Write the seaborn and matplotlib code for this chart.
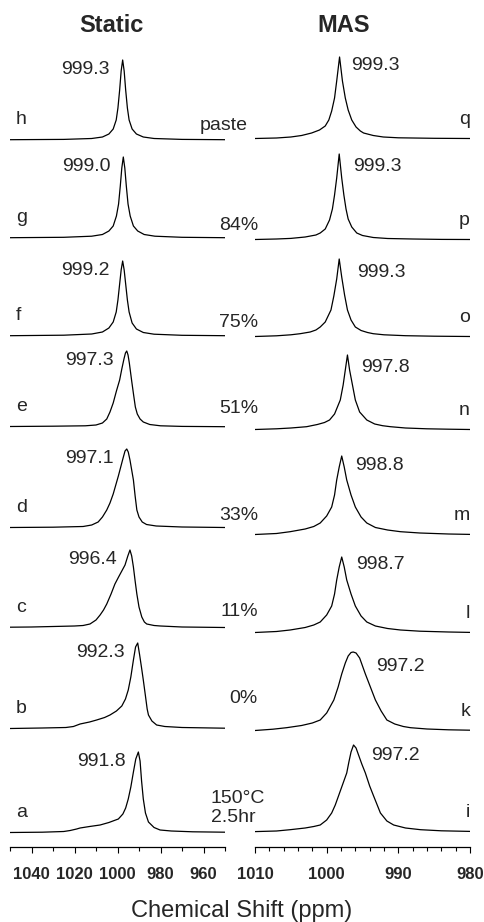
import numpy as np
import pandas as pd
import matplotlib
matplotlib.use("Agg")
import matplotlib.pyplot as plt
from matplotlib import font_manager
from matplotlib.ticker import MultipleLocator
import seaborn as sns

# ---- static spectra (ppm, intensity) ----
h_ppm = [1050, 1025, 1012, 1007, 1004, 1002, 1000.6, 999.8, 999.0, 998.3, 997.6, 996.9, 996.2, 995.4, 994.6, 993.2, 991.2, 988, 983, 970, 950]
h_int = [0.3, 0.6, 1.5, 3, 6, 11, 20, 32, 50, 69, 80, 69, 50, 32, 20, 11, 6, 3, 1.5, 0.6, 0.3]
g_ppm = [1050, 1025, 1012, 1007, 1004, 1002, 1000.5, 999.5, 998.7, 998.0, 997.3, 996.6, 995.9, 995.1, 994.1, 992.6, 990.6, 987.6, 982.6, 970, 950]
g_int = [0.3, 0.7, 1.8, 3.5, 7, 12, 22, 34, 52, 70, 81, 70, 52, 34, 22, 12, 7, 3.5, 1.8, 0.7, 0.3]
f_ppm = [1050, 1025, 1012, 1007, 1004, 1002, 1000.6, 999.8, 999.0, 998.3, 997.6, 996.9, 996.2, 995.4, 994.6, 993.2, 991.2, 988, 983, 970, 950]
f_int = [0.3, 0.8, 2, 4, 8, 14, 24, 36, 52, 66, 75, 66, 52, 36, 24, 13, 7, 3.5, 1.8, 0.7, 0.3]
e_ppm = [1050, 1030, 1015, 1010, 1007, 1005, 1003.5, 1002, 1000.5, 999, 998, 997, 996.3, 995.7, 995.1, 994.5, 993.4, 992.5, 991.7, 990.8, 989.5, 988, 985, 980, 970, 950]
e_int = [0.5, 0.8, 1.2, 2, 4, 8, 15, 24, 36, 47, 58, 68, 74, 76, 72, 64, 46, 32, 20, 13, 8, 5, 2.5, 1.2, 0.6, 0.3]
d_ppm = [1050, 1030, 1016, 1012, 1009, 1007, 1005, 1003.5, 1002, 1000.8, 999.6, 998.5, 997.4, 996.5, 995.7, 995, 994.2, 993.4, 992.6, 991.8, 991, 990, 988.5, 986.5, 982, 970, 950]
d_int = [0.5, 0.8, 1.5, 3, 6, 11, 18, 25, 34, 43, 52, 61, 70, 77, 79, 76, 68, 58, 48, 32, 18, 11, 6, 3.5, 2, 1, 0.5]
c_ppm = [1050, 1040, 1030, 1020, 1016, 1012.8, 1010, 1008.1, 1006.5, 1005, 1003, 1001.2, 999.5, 998, 996.5, 995.2, 994.2, 993.4, 992.6, 991.8, 991, 990, 988.7, 987.5, 986.4, 983, 980, 970, 950]
c_int = [0.8, 1, 1.5, 2, 2.5, 4, 8, 13, 18, 24, 34, 44, 51, 57, 63, 72, 78, 72, 61, 47, 34, 21, 11, 6, 4, 2.5, 2, 1, 0.5]
b_ppm = [1050, 1035, 1024, 1020.5, 1017.4, 1013, 1009.7, 1006, 1003.5, 1000.5, 998, 996.3, 995, 993.8, 992.6, 991.6, 990.6, 989.7, 988.8, 988, 987, 986.2, 985.6, 984, 981.8, 978, 970, 950]
b_int = [0.5, 1, 1.5, 2.5, 5, 7, 9, 11.5, 14, 18, 23, 30, 39, 52, 69, 82, 86, 74, 61, 49, 33, 20, 14, 8, 4, 2.5, 1.5, 0.8]
a_ppm = [1050, 1035, 1025, 1022, 1019, 1017.4, 1013, 1008.1, 1004, 1001.5, 999.6, 997.5, 996.2, 995, 993.8, 992.6, 991.5, 990.3, 989.5, 988.8, 988, 987, 985.6, 983, 980.2, 975, 965, 950]
a_int = [0.5, 0.8, 1.5, 2.5, 4, 5, 6.5, 8, 10.5, 12.5, 14, 19, 25, 34, 46, 61, 74, 81, 72, 52, 34, 20, 11, 5.5, 3, 2, 1.2, 0.8]

# ---- MAS spectra ----
q_ppm = [1010, 1007, 1005, 1003.5, 1002.1, 1001, 1000.2, 999.7, 999.3, 998.9, 998.6, 998.2, 997.8, 997.4, 997.0, 996.5, 995.9, 995.3, 994.85, 993.5, 992.1, 990, 985, 980]
q_int = [0.5, 1, 2, 3.5, 6, 9, 13, 19, 28, 41, 58, 82, 58, 41, 29, 19, 12, 8, 6, 3.5, 2, 1.2, 0.7, 0.5]
p_ppm = [1010, 1007, 1005, 1003, 1001.5, 1000.9, 1000.2, 999.6, 999.2, 998.9, 998.6, 998.25, 997.9, 997.6, 997.3, 997.0, 996.5, 995.8, 995, 993.5, 991.5, 988, 984, 980]
p_int = [0.5, 1, 1.6, 3, 5, 7, 11, 20, 31, 45, 62, 86, 62, 45, 31, 21, 13, 7, 4.5, 2.5, 1.5, 1, 0.6, 0.5]
o_ppm = [1010, 1007, 1005, 1003.7, 1002.3, 1001.5, 1000.9, 1000.2, 999.4, 999.0, 998.6, 998.25, 997.9, 997.5, 997.1, 996.6, 996.0, 995.2, 994.3, 993.5, 992, 989, 985, 980]
o_int = [0.5, 1.2, 2.2, 3.3, 5, 7, 10, 15, 27, 41, 58, 78, 60, 42, 27, 17, 10, 6.5, 4.5, 3.3, 2.2, 1.3, 0.8, 0.5]
n_ppm = [1010, 1007, 1005, 1002.8, 1001.3, 1000.3, 999.6, 998.9, 998.1, 997.7, 997.4, 997.1, 996.8, 996.4, 996.0, 995.4, 994.4, 993.3, 992.2, 991.1, 989, 986, 983, 980]
n_int = [0.5, 1.2, 2, 3.3, 5.5, 7.5, 10, 16, 30, 45, 60, 75, 60, 45, 30, 18, 10, 6, 4.3, 3.3, 2, 1.2, 0.8, 0.5]
m_ppm = [1010, 1007, 1005.1, 1003, 1001.8, 1000.9, 1000, 999.3, 998.9, 998.6, 998.25, 997.9, 997.55, 997.2, 996.6, 996.0, 995.2, 994.4, 993.2, 991.5, 989.7, 987, 983, 980]
m_int = [0.5, 1.5, 3.3, 6, 8.5, 12, 19, 28, 40, 55, 68, 79, 68, 55, 40, 28, 18, 12, 7.5, 5, 3.3, 2, 1, 0.6]
l_ppm = [1010, 1007, 1005.1, 1003, 1001.8, 1000.9, 1000, 999.3, 998.9, 998.6, 998.25, 997.9, 997.55, 997.2, 996.6, 996.0, 995.2, 994.4, 993.2, 991.5, 989.7, 987, 983, 980]
l_int = [0.5, 1.5, 3, 5.5, 8, 11, 18, 27, 39, 53, 66, 76, 66, 53, 39, 27, 17, 11, 7, 4.5, 3, 1.8, 1, 0.6]
k_ppm = [1010, 1007.5, 1005.6, 1003.5, 1002, 1000.9, 1000, 999.0, 998.4, 997.9, 997.4, 997.0, 996.6, 996.3, 995.9, 995.4, 994.6, 993.9, 993.2, 992.4, 991.6, 990.5, 989.3, 988.3, 986, 983, 980]
k_int = [0.5, 1.8, 3.3, 5.5, 8, 11, 18, 31, 44, 57, 68, 75, 78.5, 79, 78, 73, 57, 44, 31, 20, 11, 7, 4.5, 3.3, 2, 1.2, 0.8]
i_ppm = [1010, 1007, 1005.1, 1003, 1001.8, 1000.9, 1000, 999.3, 998.8, 998.35, 997.7, 997.2, 996.9, 996.6, 996.25, 995.9, 995.5, 995.1, 994.6, 994.0, 993.45, 992.5, 991.6, 990.65, 989, 986.9, 984, 980]
i_int = [0.4, 1, 2.3, 4, 5.5, 7, 12, 19, 27, 36, 49, 59, 70, 80, 87, 84, 76, 68, 59, 46, 36, 19, 11, 7, 4, 2.3, 1.2, 0.6]

static_letters = ["h", "g", "f", "e", "d", "c", "b", "a"]
static_shifts = ["999.3", "999.0", "999.2", "997.3", "997.1", "996.4", "992.3", "991.8"]
mas_letters = ["q", "p", "o", "n", "m", "l", "k", "i"]
mas_shifts = ["999.3", "999.3", "999.3", "997.8", "998.8", "998.7", "997.2", "997.2"]
water_labels = ["paste", "84%", "75%", "51%", "33%", "11%", "0%"]

static_curves = [(h_ppm, h_int), (g_ppm, g_int), (f_ppm, f_int), (e_ppm, e_int),
                 (d_ppm, d_int), (c_ppm, c_int), (b_ppm, b_int), (a_ppm, a_int)]
mas_curves = [(q_ppm, q_int), (p_ppm, p_int), (o_ppm, o_int), (n_ppm, n_int),
              (m_ppm, m_int), (l_ppm, l_int), (k_ppm, k_int), (i_ppm, i_int)]

# layout: stacking offsets, label offsets (pixels)
static_base = [707, 609, 511, 420, 319, 219, 118, 14]
mas_base = [708, 607, 510, 417, 312, 214, 116, 15]
mas_dx = [12, 14, 18, 14, 13, 14, 23, 18]
mas_dy = [-8, -12, -13, -12, -9, -7, -14, -10]
water_xy = [(248, 130), (258, 230), (258, 327), (258, 413), (258, 520), (258, 616), (257, 703)]

sns.set_theme(style="white")
plt.rcParams["font.family"] = ["Liberation Sans", "DejaVu Sans"]
names = {f.name for f in font_manager.fontManager.ttflist}
if "Liberation Sans Narrow" in names:
    tick_font, tick_size = ["Liberation Sans Narrow", "DejaVu Sans"], 14
else:
    tick_font, tick_size = ["Liberation Sans", "DejaVu Sans"], 12

W, H = 485, 922
fig = plt.figure(figsize=(W / 100, H / 100), dpi=100)
ax_s = fig.add_axes([10 / W, 75 / H, 215 / W, 817 / H])
ax_m = fig.add_axes([255 / W, 75 / H, 215 / W, 817 / H])


def stack(curves, base, letters):
    rows = []
    for (ppm, inten), b, lab in zip(curves, base, letters):
        for x, y in zip(ppm, inten):
            rows.append((lab, x, y + b))
    return pd.DataFrame(rows, columns=["curve", "ppm", "y"])


for ax, curves, base, letters in [(ax_s, static_curves, static_base, static_letters),
                                  (ax_m, mas_curves, mas_base, mas_letters)]:
    df = stack(curves, base, letters)
    sns.lineplot(data=df, x="ppm", y="y", units="curve", estimator=None, sort=False,
                 color="black", linewidth=0.9, ax=ax)
    ax.set_ylim(0, 817)
    ax.set_yticks([])
    ax.set_xlabel("")
    ax.set_ylabel("")
    sns.despine(ax=ax, left=True)
    ax.spines["bottom"].set_linewidth(0.9)
    ax.spines["bottom"].set_color("black")
    ax.tick_params(axis="x", which="major", direction="out", length=4.5, width=0.8,
                   color="black", pad=10, bottom=True)
    ax.tick_params(axis="x", which="minor", direction="out", length=3, width=0.8,
                   color="black", bottom=True)

ax_s.set_xlim(1050, 950)
ax_s.xaxis.set_major_locator(MultipleLocator(20))
ax_s.xaxis.set_minor_locator(MultipleLocator(10))
ax_m.set_xlim(1010, 980)
ax_m.xaxis.set_major_locator(MultipleLocator(10))
ax_m.xaxis.set_minor_locator(MultipleLocator(2))
for ax in (ax_s, ax_m):
    ax.set_xticks(ax.get_xticks())
    ax.set_xticklabels([f"{v:.0f}" for v in ax.get_xticks()], fontfamily=tick_font,
                       fontweight="bold", fontsize=tick_size)
ax_s.set_xlim(1050, 950)
ax_m.set_xlim(1010, 980)

# peak labels and trace letters
for (ppm, inten), b, lab, txt in zip(static_curves, static_base, static_letters, static_shifts):
    k = int(np.argmax(inten))
    ax_s.annotate(txt, xy=(ppm[k], b + inten[k]), xytext=(-13, -9), textcoords="offset pixels",
                  ha="right", va="center", fontsize=14)
    ax_s.annotate(lab, xy=(1050, b), xytext=(6, 16), textcoords="offset pixels",
                  ha="left", va="baseline", fontsize=14)

for (ppm, inten), b, lab, txt, dx, dy in zip(mas_curves, mas_base, mas_letters, mas_shifts, mas_dx, mas_dy):
    k = int(np.argmax(inten))
    ax_m.annotate(txt, xy=(ppm[k], b + inten[k]), xytext=(dx, dy), textcoords="offset pixels",
                  ha="left", va="center", fontsize=14)
    ax_m.annotate(lab, xy=(980, b), xytext=(0, 15), textcoords="offset pixels",
                  ha="right", va="baseline", fontsize=14)

for txt, (x, y) in zip(water_labels, water_xy):
    fig.text(x / W, 1 - y / H, txt, ha="right", va="baseline", fontsize=14)
fig.text(211 / W, 1 - 803 / H, "150°C", ha="left", va="baseline", fontsize=14)
fig.text(211 / W, 1 - 822 / H, "2.5hr", ha="left", va="baseline", fontsize=14)

fig.text(111.5 / W, 1 - 32 / H, "Static", ha="center", va="baseline", fontsize=17, fontweight="bold")
fig.text(343.5 / W, 1 - 32 / H, "MAS", ha="center", va="baseline", fontsize=17, fontweight="bold")
fig.text(242 / W, 1 - 917 / H, "Chemical Shift (ppm)", ha="center", va="baseline", fontsize=17)

fig.savefig("out.png", dpi=100)
